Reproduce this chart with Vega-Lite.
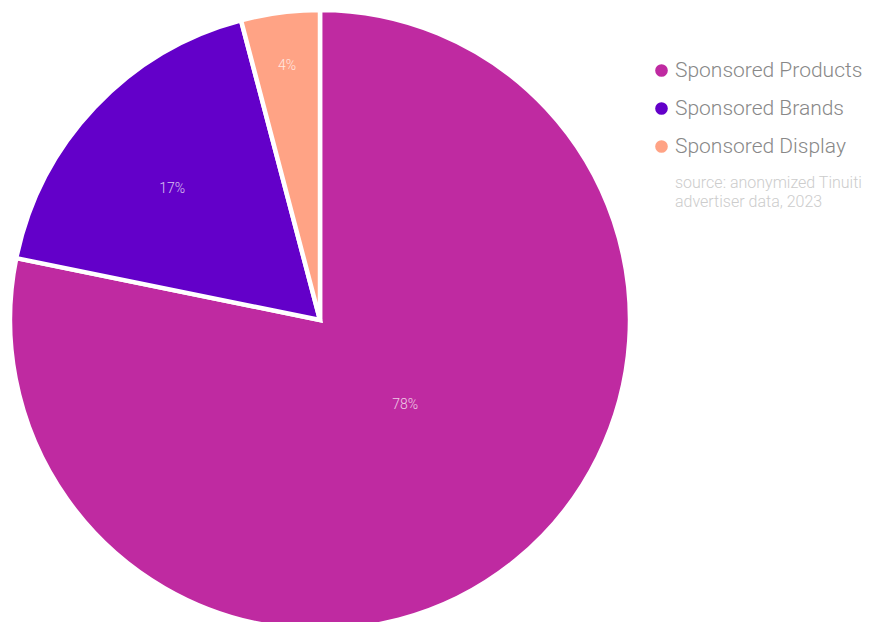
{
  "$schema": "https://vega.github.io/schema/vega-lite/v6.json",
  "width": 640,
  "height": 640,
  "autosize": {"type": "none"},
  "padding": {"left": 0, "top": 0, "right": 235, "bottom": 0},
  "background": "white",
  "config": {"view": {"stroke": null}, "font": "Roboto"},
  "title": {
    "text": ["source: anonymized Tinuiti", "advertiser data, 2023"],
    "orient": "top",
    "anchor": "start",
    "frame": "group",
    "baseline": "top",
    "align": "left",
    "font": "Roboto",
    "fontSize": 16,
    "fontWeight": 300,
    "color": "#cccccc",
    "lineHeight": 19,
    "dx": 675,
    "dy": 210,
    "offset": 0
  },
  "data": {
    "values": [
      {"type": "Sponsored Products", "share": 78.2, "label": "78%", "rank": 1},
      {"type": "Sponsored Brands", "share": 17.7, "label": "17%", "rank": 2},
      {"type": "Sponsored Display", "share": 4.1, "label": "4%", "rank": 3}
    ]
  },
  "encoding": {
    "theta": {"field": "share", "type": "quantitative", "stack": true},
    "order": {"field": "rank", "type": "quantitative"}
  },
  "layer": [
    {
      "mark": {"type": "arc", "outerRadius": 310, "stroke": "white", "strokeWidth": 4.5},
      "encoding": {
        "color": {
          "field": "type",
          "type": "nominal",
          "sort": ["Sponsored Products", "Sponsored Brands", "Sponsored Display"],
          "scale": {
            "domain": ["Sponsored Products", "Sponsored Brands", "Sponsored Display"],
            "range": ["#BF2AA1", "#6300C9", "#FFA385"]
          },
          "legend": {
            "title": null,
            "orient": "none",
            "legendX": 651,
            "legendY": 60,
            "symbolType": "circle",
            "symbolSize": 160,
            "symbolStrokeWidth": 0,
            "labelFont": "Roboto",
            "labelFontSize": 21,
            "labelFontWeight": 300,
            "labelColor": "#888888",
            "labelOffset": 3,
            "rowPadding": 16,
            "labelLimit": 300
          }
        }
      }
    },
    {
      "mark": {"type": "text", "radius": 122, "fontSize": 14, "fontWeight": 300, "font": "Roboto", "fill": "white", "opacity": 0.75, "dx": 8, "dy": -9},
      "encoding": {"text": {"condition": {"test": "datum.rank == 1", "field": "label"}, "value": ""}}
    },
    {
      "mark": {"type": "text", "radius": 198, "fontSize": 14, "fontWeight": 300, "font": "Roboto", "fill": "white", "opacity": 0.75, "dx": -4, "dy": 5},
      "encoding": {"text": {"condition": {"test": "datum.rank == 2", "field": "label"}, "value": ""}}
    },
    {
      "mark": {"type": "text", "radius": 256, "fontSize": 14, "fontWeight": 300, "font": "Roboto", "fill": "white", "opacity": 0.75},
      "encoding": {"text": {"condition": {"test": "datum.rank == 3", "field": "label"}, "value": ""}}
    }
  ]
}
